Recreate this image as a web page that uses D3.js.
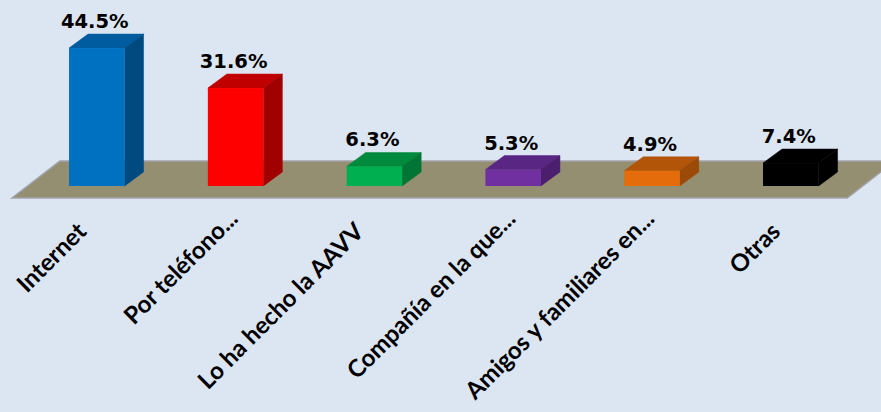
<!DOCTYPE html>
<html>
<head>
<meta charset="utf-8">
<script src="https://cdn.jsdelivr.net/npm/d3@7"></script>
<style>
  html, body { margin: 0; padding: 0; background: #DCE6F2; }
  svg { display: block; }
</style>
</head>
<body>
<svg id="chart" width="881" height="412"></svg>
<script>
// Categories, values and bar colours
const categories = [
  "Internet",
  "Por teléfono...",
  "Lo ha hecho la AAVV",
  "Compañía en la que...",
  "Amigos y familiares en...",
  "Otras"
];
const values = [44.5, 31.6, 6.3, 5.3, 4.9, 7.4];
const valueLabels = ["44.5%", "31.6%", "6.3%", "5.3%", "4.9%", "7.4%"];
const frontColors = ["#0070C0", "#FF0000", "#00B050", "#7030A0", "#E46C0A", "#000000"];
const topColors   = ["#005C9F", "#C00000", "#008A3E", "#5A2683", "#B35508", "#000000"];
const sideColors  = ["#004A80", "#A00000", "#007535", "#4B1F6E", "#9C4A07", "#000000"];

const W = 881, H = 412;
const svg = d3.select("#chart");

svg.append("rect").attr("width", W).attr("height", H).attr("fill", "#DCE6F2");

const x = d3.scaleBand()
  .domain(categories)
  .range([27.4, 860.2])
  .paddingInner(0.6)
  .paddingOuter(0.3);

const y = d3.scaleLinear().domain([0, 50]).range([186, 31]);

// oblique depth offsets for bars and floor
const bdx = 19, bdy = -14;
const floorFront = y(0) + 12, floorBack = y(0) - 25;
const floorDx = 48;
const floorLeft = x.range()[0] - 15.5, floorRight = x.range()[1] - 13;

svg.append("path")
  .attr("d", d3.line()([
    [floorLeft, floorFront],
    [floorRight, floorFront],
    [floorRight + floorDx, floorBack],
    [floorLeft + floorDx, floorBack]
  ]) + "Z")
  .attr("fill", "#958F71")
  .attr("stroke", "#A2A3AC")
  .attr("stroke-width", 1.4);

const data = categories.map((c, i) => ({ c, v: values[i], i }));

const bars = svg.append("g").selectAll("g").data(data).join("g");

bars.append("path") // top face
  .attr("d", d => {
    const x0 = x(d.c), w = x.bandwidth(), yt = y(d.v);
    return d3.line()([[x0, yt], [x0 + bdx, yt + bdy], [x0 + w + bdx, yt + bdy], [x0 + w, yt]]) + "Z";
  })
  .attr("fill", d => topColors[d.i])
  .attr("stroke", d => topColors[d.i])
  .attr("stroke-width", 0.5);

bars.append("path") // side face
  .attr("d", d => {
    const x1 = x(d.c) + x.bandwidth(), yt = y(d.v), yb = y(0);
    return d3.line()([[x1, yt], [x1 + bdx, yt + bdy], [x1 + bdx, yb + bdy], [x1, yb]]) + "Z";
  })
  .attr("fill", d => sideColors[d.i])
  .attr("stroke", d => sideColors[d.i])
  .attr("stroke-width", 0.5);

bars.append("rect") // front face
  .attr("x", d => x(d.c))
  .attr("y", d => y(d.v))
  .attr("width", x.bandwidth())
  .attr("height", d => y(0) - y(d.v))
  .attr("fill", d => frontColors[d.i]);

// value labels
svg.append("g").selectAll("text").data(data).join("text")
  .attr("x", d => x(d.c) + x.bandwidth() / 2 - 2)
  .attr("y", d => y(d.v) - 20)
  .attr("text-anchor", "middle")
  .attr("font-family", "DejaVu Sans")
  .attr("font-weight", "bold")
  .attr("font-size", 19.5)
  .attr("fill", "#000")
  .text((d, i) => valueLabels[i]);

// rotated category labels; truncated ones sit a little further along their baseline
svg.append("g").selectAll("text").data(categories).join("text")
  .attr("transform", c => `translate(${x(c) + x.bandwidth() / 2 - 9},233) rotate(-45)`)
  .attr("dx", c => c.endsWith("...") ? 18 : 0)
  .attr("text-anchor", "end")
  .attr("font-family", "Lato")
  .attr("font-weight", "bold")
  .attr("font-size", 24)
  .attr("fill", "#000")
  .text(c => c);
</script>
</body>
</html>
